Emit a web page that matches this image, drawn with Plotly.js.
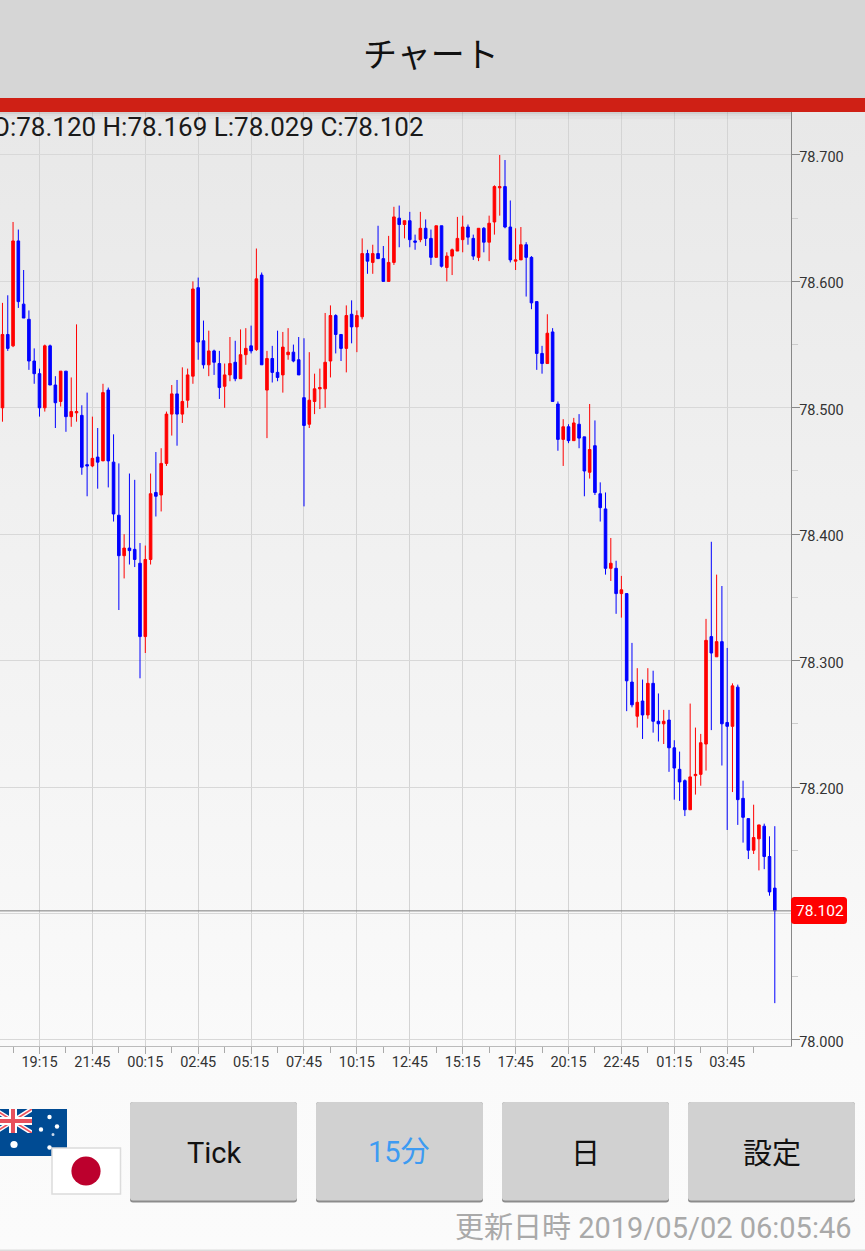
<!DOCTYPE html>
<html><head><meta charset="utf-8">
<script src="https://cdn.plot.ly/plotly-3.0.1.min.js"></script>
<style>
html,body{margin:0;padding:0;width:865px;height:1251px;overflow:hidden;
background:linear-gradient(to bottom,#e6e6e6 0px,#e8e8e8 112px,#f0f0f0 500px,#fafafa 1050px,#fbfbfb 1251px);}
#c{width:865px;height:1251px;}
</style></head><body><div id="c"></div>
<script>
const opens=[78.500,78.558,78.549,78.632,78.582,78.570,78.537,78.527,78.500,78.549,
78.518,78.505,78.529,78.493,78.496,78.494,78.455,78.454,78.461,78.458,
78.514,78.457,78.415,78.383,78.389,78.388,78.377,78.319,78.380,78.433,
78.431,78.456,78.495,78.511,78.495,78.506,78.525,78.595,78.553,78.534,
78.545,78.535,78.517,78.526,78.536,78.523,78.542,78.549,78.546,78.605,
78.514,78.539,78.528,78.526,78.542,78.544,78.538,78.508,78.487,78.505,
78.515,78.515,78.537,78.573,78.558,78.547,78.574,78.564,78.572,78.622,
78.615,78.622,78.618,78.600,78.615,78.650,78.645,78.648,78.632,78.633,
78.642,78.634,78.619,78.644,78.611,78.620,78.624,78.633,78.643,78.634,
78.619,78.642,78.631,78.647,78.674,78.675,78.643,78.616,78.617,78.629,
78.619,78.584,78.543,78.535,78.560,78.503,78.475,78.485,78.474,78.487,
78.477,78.449,78.470,78.432,78.420,78.373,78.373,78.353,78.353,78.283,
78.256,78.268,78.257,78.282,78.252,78.250,78.253,78.231,78.214,78.205,
78.182,78.209,78.210,78.234,78.319,78.303,78.315,78.251,78.248,78.279,
78.191,78.175,78.150,78.159,78.169,78.145,78.120];
const highs=[78.583,78.589,78.647,78.641,78.609,78.577,78.547,78.531,78.550,78.550,
78.525,78.529,78.529,78.524,78.566,78.502,78.512,78.493,78.484,78.519,
78.516,78.479,78.456,78.400,78.448,78.443,78.393,78.391,78.448,78.465,
78.468,78.497,78.518,78.522,78.532,78.531,78.600,78.603,78.569,78.561,
78.546,78.545,78.535,78.556,78.553,78.562,78.563,78.565,78.626,78.607,
78.545,78.549,78.561,78.560,78.563,78.550,78.556,78.555,78.544,78.527,
78.531,78.575,78.581,78.574,78.558,78.581,78.585,78.577,78.634,78.625,
78.629,78.644,78.628,78.636,78.659,78.660,78.648,78.655,78.637,78.655,
78.649,78.641,78.644,78.644,78.623,78.626,78.651,78.652,78.645,78.637,
78.642,78.643,78.652,78.676,78.700,78.696,78.664,78.642,78.643,78.631,
78.620,78.584,78.549,78.574,78.563,78.505,78.491,78.487,78.492,78.495,
78.477,78.503,78.490,78.441,78.433,78.397,78.379,78.367,78.353,78.314,
78.294,78.285,78.294,78.292,78.274,78.261,78.261,78.237,78.228,78.206,
78.266,78.247,78.242,78.333,78.394,78.368,78.359,78.310,78.282,78.281,
78.205,78.175,78.186,78.170,78.171,78.161,78.169];
const lows=[78.489,78.545,78.548,78.579,78.571,78.530,78.519,78.493,78.497,78.518,
78.484,78.501,78.481,78.485,78.489,78.447,78.430,78.453,78.436,78.458,
78.437,78.410,78.340,78.365,78.376,78.374,78.286,78.306,78.376,78.414,
78.418,78.454,78.478,78.470,78.488,78.500,78.519,78.538,78.531,78.525,
78.526,78.507,78.500,78.521,78.521,78.523,78.534,78.543,78.545,78.534,
78.476,78.520,78.521,78.512,78.538,78.536,78.526,78.422,78.484,78.495,
78.499,78.500,78.524,78.543,78.537,78.528,78.551,78.544,78.570,78.606,
78.606,78.618,78.600,78.600,78.613,78.627,78.634,78.627,78.625,78.631,
78.628,78.613,78.619,78.611,78.600,78.605,78.624,78.623,78.629,78.617,
78.616,78.623,78.616,78.637,78.652,78.642,78.615,78.609,78.617,78.588,
78.578,78.530,78.527,78.535,78.505,78.466,78.454,78.472,78.474,78.468,
78.430,78.444,78.431,78.410,78.368,78.363,78.337,78.334,78.260,78.263,
78.247,78.238,78.254,78.243,78.236,78.234,78.212,78.190,78.189,78.177,
78.182,78.194,78.201,78.213,78.245,78.303,78.217,78.166,78.196,78.170,
78.156,78.143,78.147,78.134,78.135,78.114,78.029];
const closes=[78.558,78.547,78.632,78.584,78.571,78.537,78.527,78.500,78.549,78.518,
78.504,78.529,78.493,78.497,78.497,78.453,78.454,78.460,78.457,78.512,
78.458,78.416,78.383,78.389,78.387,78.380,78.319,78.380,78.432,78.430,
78.456,78.495,78.511,78.495,78.505,78.526,78.594,78.552,78.534,78.545,
78.536,78.516,78.526,78.535,78.523,78.542,78.547,78.545,78.602,78.534,
78.539,78.528,78.524,78.548,78.544,78.537,78.526,78.486,78.506,78.515,
78.516,78.536,78.573,78.558,78.547,78.573,78.564,78.573,78.622,78.616,
78.622,78.618,78.600,78.615,78.651,78.645,78.648,78.633,78.631,78.642,
78.634,78.619,78.644,78.612,78.620,78.625,78.634,78.643,78.635,78.620,
78.642,78.631,78.646,78.675,78.675,78.643,78.617,78.617,78.629,78.619,
78.583,78.543,78.535,78.559,78.505,78.475,78.485,78.474,78.488,78.476,
78.450,78.467,78.433,78.421,78.373,78.377,78.353,78.356,78.284,78.265,
78.267,78.257,78.282,78.252,78.250,78.252,78.231,78.215,78.204,78.182,
78.208,78.210,78.235,78.316,78.306,78.315,78.250,78.248,78.280,78.190,
78.176,78.150,78.160,78.170,78.145,78.117,78.102];
const firstBar=-7;
const timeTickVals=[0,10,20,30,40,50,60,70,80,90,100,110,120,130];
const timeTickText=["19:15","21:45","00:15","02:45","05:15","07:45","10:15","12:45","15:15","17:45","20:15","22:45","01:15","03:45"];
const priceTickVals=[78.0,78.1,78.2,78.3,78.4,78.5,78.6,78.7];
const priceTickText=["78.000","","78.200","78.300","78.400","78.500","78.600","78.700"];
const lastPrice=78.102;
const titleText="チャート";
const ohlcText="O:78.120 H:78.169 L:78.029 C:78.102";
const lastPriceText="78.102";
const buttonLabels=["Tick","15分","日","設定"];
const updatedText="更新日時 2019/05/02 06:05:46";

const W=865,H=1251;
const px=x=>x/W, py=y=>1-y/H;
const bars=opens.map((_,i)=>i+firstBar);
const FONT='Roboto, "Noto Sans CJK JP", sans-serif';
const CJK='"Noto Sans CJK JP", Roboto, sans-serif';

function rect(x0,y0,x1,y1,fill,extra){return Object.assign({type:'rect',xref:'paper',yref:'paper',
  x0:px(x0),x1:px(x1),y0:py(y0),y1:py(y1),fillcolor:fill,line:{width:0},layer:'above'},extra||{});}
function rrect(x0,y0,x1,y1,r,fill){
  const X=v=>px(v),Y=v=>py(v);
  return {type:'path',xref:'paper',yref:'paper',layer:'above',fillcolor:fill,line:{width:0},
   path:`M${X(x0+r)},${Y(y0)}L${X(x1-r)},${Y(y0)}Q${X(x1)},${Y(y0)} ${X(x1)},${Y(y0+r)}L${X(x1)},${Y(y1-r)}Q${X(x1)},${Y(y1)} ${X(x1-r)},${Y(y1)}L${X(x0+r)},${Y(y1)}Q${X(x0)},${Y(y1)} ${X(x0)},${Y(y1-r)}L${X(x0)},${Y(y0+r)}Q${X(x0)},${Y(y0)} ${X(x0+r)},${Y(y0)}Z`};
}
function seg(x0,y0,x1,y1,color,w){return {type:'line',xref:'paper',yref:'paper',layer:'above',
  x0:px(x0),x1:px(x1),y0:py(y0),y1:py(y1),line:{color:color,width:w}};}
function dot(cx,cy,r,fill){return {type:'circle',xref:'paper',yref:'paper',layer:'above',
  x0:px(cx-r),x1:px(cx+r),y0:py(cy-r),y1:py(cy+r),fillcolor:fill,line:{width:0}};}
function label(x,y,text,size,color,anchor,family){return {xref:'paper',yref:'paper',x:px(x),y:py(y),
  text:text,showarrow:false,xanchor:anchor||'center',yanchor:'middle',borderpad:0,borderwidth:0,
  font:{size:size,color:color,family:family||FONT}};}

const shapes=[
  rect(0,112,791,114,'rgba(0,0,0,0.10)'),rect(0,114,791,116,'rgba(0,0,0,0.05)'),rect(0,116,791,119,'rgba(0,0,0,0.025)'),
  rect(0,0,W,98,'#d6d6d6'),
  rect(0,98,W,112,'#cf2015'),
  {type:'line',xref:'x',yref:'y',x0:-7.467,x1:142.12,y0:lastPrice,y1:lastPrice,line:{color:'#7d7d7d',width:1},layer:'above'},
  rrect(791,897,847,924,3.5,'#ff0000'),
  // AU flag
  rect(0,1109,67,1156,'#004b93'),
  seg(-6,1109,32,1133,'#ffffff',4.5),seg(-6,1133,32,1109,'#ffffff',4.5),
  seg(-6,1109,32,1133,'#f0555f',1.6),seg(-6,1133,32,1109,'#f0555f',1.6),
  rect(0,1103,38,1109,'#fbfbfb'),rect(32,1109,38,1136,'#004b93'),rect(0,1133,38,1136,'#004b93'),
  rect(0,1117,32,1125,'#ffffff'),rect(9,1109,17,1133,'#ffffff'),
  rect(0,1119,32,1123,'#e8505c'),rect(11,1109,15,1133,'#e8505c'),
  dot(14,1144.5,3.6,'#ffffff'),dot(49.5,1117,2.2,'#ffffff'),dot(57,1126.5,2.2,'#ffffff'),
  dot(41,1129.5,2.2,'#ffffff'),dot(53,1134.5,1.5,'#c9d8ea'),dot(49.5,1147.5,2.2,'#ffffff'),
  // JP flag
  {type:'rect',xref:'paper',yref:'paper',layer:'above',x0:px(52),x1:px(120.5),y0:py(1148),y1:py(1194),
   fillcolor:'#ffffff',line:{color:'#dcdcdc',width:1.5}},
  dot(86,1171,14.6,'#bc002d'),
  rect(0,1249.5,W,1251,'#dddddd')
];
const buttonX=[130,316,502,688];
buttonX.forEach(x=>{shapes.push(rrect(x,1102,x+167,1202.5,3,'#8c8c8c'));shapes.push(rrect(x,1102,x+167,1200.5,3,'#d1d1d1'));});

const annotations=[
  label(431,53,titleText,34,'#111111','center',CJK),
  label(424,127,ohlcText,26,'#1a1a1a','right'),
  label(819.5,910.5,lastPriceText,15.5,'#ffffff','center'),
  label(214,1153,buttonLabels[0],29,'#111111','center'),
  label(398.5,1152,buttonLabels[1],29,'#3d9bf2','center',FONT),
  label(585,1150.5,buttonLabels[2],29,'#111111','center',CJK),
  label(771.5,1150.5,buttonLabels[3],29,'#111111','center',CJK),
  label(852,1228,updatedText,29,'#a9a9a9','right',FONT)
];

Plotly.newPlot('c',[{
  type:'candlestick',x:bars,open:opens,high:highs,low:lows,close:closes,
  increasing:{line:{color:'#ff0000',width:1},fillcolor:'#ff0000'},
  decreasing:{line:{color:'#0000ff',width:1},fillcolor:'#0000ff'},
  hoverinfo:'skip',showlegend:false
}],{
  width:W,height:H,margin:{l:0,r:0,t:0,b:0,pad:0},
  paper_bgcolor:'rgba(0,0,0,0)',plot_bgcolor:'rgba(0,0,0,0)',showlegend:false,
  boxgap:0.3,
  font:{family:FONT,size:14,color:'#333333'},
  xaxis:{type:'linear',domain:[0,791.3/W],range:[-7.467,142.12],anchor:'y',
    tickmode:'array',tickvals:timeTickVals,ticktext:timeTickText,
    ticks:'outside',ticklen:7,tickcolor:'#aaaaaa',tickwidth:1,ticklabelstandoff:-4,
    showline:true,linecolor:'#bbbbbb',linewidth:1,
    showgrid:true,gridcolor:'#d4d4d4',gridwidth:1,zeroline:false,
    tickfont:{size:14.5,color:'#333333',family:FONT},
    rangeslider:{visible:false},fixedrange:true,
    minor:{tickvals:[-5,5,15,25,35,45,55,65,75,85,95,105,115,125,135],ticks:'outside',ticklen:6,tickcolor:'#aaaaaa',tickwidth:1,showgrid:false}},
  yaxis:{type:'linear',domain:[1-1046/H,1-112/H],range:[77.9951,78.7340],side:'right',anchor:'x',
    tickmode:'array',tickvals:priceTickVals,ticktext:priceTickText,
    ticks:'outside',ticklen:8,tickcolor:'#888888',tickwidth:1,ticklabelstandoff:-4,ticklabelshift:2,
    showline:true,linecolor:'#888888',linewidth:1,mirror:false,
    showgrid:true,gridcolor:'#d8d8d8',gridwidth:1,zeroline:false,
    tickfont:{size:14.5,color:'#333333',family:FONT},fixedrange:true,
    minor:{dtick:0.1,tick0:78.05,ticks:'outside',ticklen:6,tickcolor:'#cccccc',tickwidth:1,showgrid:false}},
  shapes:shapes,annotations:annotations
},{displayModeBar:false,staticPlot:true});
</script></body></html>
